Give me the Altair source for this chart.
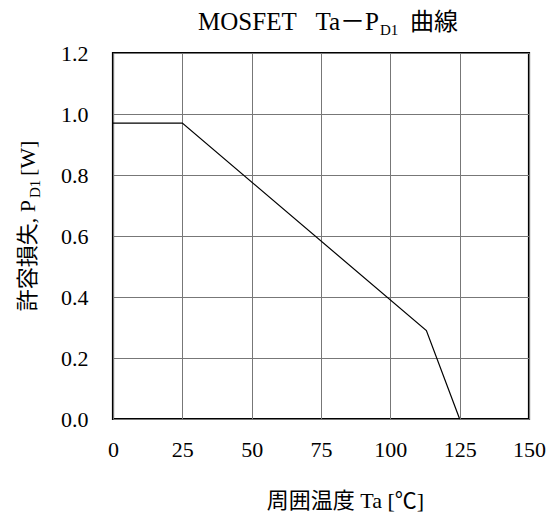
import altair as alt
import pandas as pd

# ---- data ----
temp_c = [0, 25, 113, 125]
power_w = [0.97, 0.97, 0.29, 0.0]
x_ticks = [0, 25, 50, 75, 100, 125, 150]
y_ticks = [0.0, 0.2, 0.4, 0.6, 0.8, 1.0, 1.2]

title_main = "MOSFET\u00a0\u00a0\u00a0Ta－P"
title_sub = "D1"
title_tail = "曲線"
ytitle_main = "許容損失,\u00a0P"
ytitle_sub = "D1"
ytitle_tail = "[W]"
xtitle = "周囲温度\u00a0Ta\u00a0[℃]"

FONT = "'Times New Roman', 'Liberation Serif', Tinos, 'Noto Sans CJK JP', serif"
W, H = 416, 366

df = pd.DataFrame({"Ta": temp_c, "P": power_w})

line = alt.Chart(df).mark_line(color="black", strokeWidth=1.2).encode(
    x=alt.X(
        "Ta:Q",
        scale=alt.Scale(domain=[0, 150], nice=False),
        axis=alt.Axis(
            values=x_ticks, title=xtitle, grid=True, gridColor="#777777", gridWidth=1,
            domain=False, ticks=True, tickSize=0, labelFontSize=22, labelFont=FONT,
            labelColor="black", labelPadding=37, labelBaseline="alphabetic",
            labelFlush=False, titleFont=FONT, titleFontSize=22, titleFontWeight="normal",
            titleColor="black", titleX=232, titleY=88, titleAlign="center",
            titleBaseline="alphabetic",
        ),
    ),
    y=alt.Y(
        "P:Q",
        scale=alt.Scale(domain=[0, 1.2], nice=False),
        axis=alt.Axis(
            values=y_ticks, format=".1f", title=None, grid=True, gridColor="#777777",
            gridWidth=1, domain=False, ticks=True, tickSize=0, labelFontSize=22,
            labelFont=FONT, labelColor="black", labelPadding=25, labelAlign="right",
            labelBaseline="middle", labelFlush=False,
        ),
    ),
)


def txt(s, x, y, size, align, angle=0):
    return alt.Chart(alt.Data(values=[{"t": s}])).mark_text(
        font=FONT, fontSize=size, align=align, baseline="alphabetic",
        angle=angle, color="black",
    ).encode(text="t:N", x=alt.value(x), y=alt.value(y))


layers = [
    line,
    txt(title_main, 266, -23, 25, "right"),
    txt(title_sub, 267, -18, 15, "left"),
    txt(title_tail, 297, -23, 24, "left"),
    txt(ytitle_main, -78, 147, 22, "right", 270),
    txt(ytitle_sub, -73, 145, 15, "left", 270),
    txt(ytitle_tail, -78, 123, 22, "left", 270),
]

chart = alt.layer(*layers).properties(
    width=W, height=H,
    autosize=alt.AutoSizeParams(type="none"),
    padding={"left": 105, "top": 45, "right": 19, "bottom": 97},
).configure_view(stroke="black", strokeWidth=2.2).configure_axis(
    labelFont=FONT, titleFont=FONT
)

chart.save("out.html", embed_options={"renderer": "svg", "actions": False})
